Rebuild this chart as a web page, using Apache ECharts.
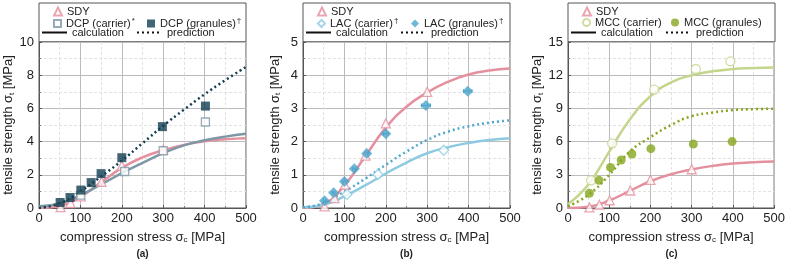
<!DOCTYPE html>
<html>
<head>
<meta charset="utf-8">
<script src="https://cdn.jsdelivr.net/npm/echarts@6/dist/echarts.min.js"></script>
<style>
  html, body { margin: 0; padding: 0; background: #fff; }
  #chart { width: 788px; height: 262px; }
</style>
</head>
<body>
<div id="chart"></div>
<script>
// measured points (compression stress MPa, tensile strength MPa)
var sdyPts = [[52, 0.05], [76, 0.3], [101, 0.7], [151, 1.58], [200, 2.55], [300, 3.5]];
var dcpCarrier = [[101, 0.78], [207, 2.2], [300, 3.45], [402, 5.18]];
var dcpGranules = [[51, 0.33], [75, 0.63], [101, 1.08], [126, 1.53], [150, 2.07], [200, 3.03], [298, 4.9], [402, 6.14]];
var lacCarrier = [[106, 0.41], [181, 1.01], [340, 1.74]];
var lacGranules = [[52, 0.22], [74, 0.46], [100, 0.8], [124, 1.18], [154, 1.64], [200, 2.24], [297, 3.09], [398, 3.52]];
var lacGranErr = [3, 3, 4, 4, 5, 6, 11, 10];
var mccCarrier = [[56, 2.5], [107, 5.84], [209, 10.7], [310, 12.56], [394, 13.25]];
var mccGranules = [[52, 1.33], [75, 2.5], [103, 3.67], [129, 4.34], [155, 4.88], [201, 5.36], [304, 5.78], [398, 6.0]];

// model curves, read every 50 MPa
var curveX = [0, 50, 100, 150, 200, 250, 300, 350, 400, 450, 500];
var sdyCalc = [0, 0.12, 0.68, 1.55, 2.42, 3.05, 3.48, 3.8, 4.02, 4.14, 4.2];
var dcpCalc = [0.1, 0.28, 0.78, 1.42, 2.1, 2.72, 3.3, 3.77, 4.08, 4.3, 4.47];
var dcpPred = [0, 0.28, 1.0, 1.9, 2.85, 3.9, 4.95, 5.92, 6.85, 7.7, 8.5];
var lacCalc = [0.02, 0.1, 0.35, 0.68, 1.04, 1.37, 1.65, 1.83, 1.96, 2.05, 2.1];
var lacPred = [0.02, 0.15, 0.49, 0.88, 1.3, 1.7, 2.05, 2.3, 2.46, 2.57, 2.64];
var mccCalc = [0.36, 2.15, 5.1, 8.0, 10.1, 11.35, 12.0, 12.35, 12.56, 12.65, 12.7];
var mccPred = [0.15, 1.2, 3.0, 5.1, 6.4, 7.5, 8.3, 8.62, 8.85, 8.93, 8.98];

var yMax = [10, 5, 15];
var yStep = [2, 1, 3];
var panelLabels = ['(a)', '(b)', '(c)'];
var carrierNames = ['DCP (carrier)*', 'LAC (carrier)\u2020', 'MCC (carrier)'];
var granuleNames = ['DCP (granules)\u2020', 'LAC (granules)\u2020', 'MCC (granules)'];

var PINK = '#e4909f';
var FONT = 'Liberation Sans, Arial, sans-serif';
var lefts = [39, 303, 568];
var W = 207, TOP = 42, BOTTOM = 54;

function zip(ys) {
  return curveX.map(function (x, i) { return [x, ys[i]]; });
}

function fitLine(name, idx, ys, color, dotted) {
  return {
    name: name, type: 'line', xAxisIndex: idx, yAxisIndex: idx,
    data: zip(ys), smooth: 0.5, symbol: 'none', silent: true,
    lineStyle: { color: color, width: 2.5, type: dotted ? [2, 3] : 'solid' },
    z: 2
  };
}

function markers(name, idx, pts, symbol, size, color, open) {
  return {
    name: name, type: 'scatter', xAxisIndex: idx, yAxisIndex: idx,
    data: pts, symbol: symbol, symbolSize: size,
    itemStyle: open
      ? { color: '#fff', borderColor: color, borderWidth: 1.3 }
      : { color: color, borderColor: color, borderWidth: 0 },
    z: 5
  };
}

// legend text with trailing * or dagger raised as superscript
function legendText(name) {
  var last = name.charAt(name.length - 1);
  if (last === '*' || last === '\u2020') {
    return '{n|' + name.slice(0, -1) + '}{sup|' + last + '}';
  }
  return '{n|' + name + '}';
}

var grids = [], xAxes = [], yAxes = [], legends = [], graphics = [];
var subRich = { s: { fontSize: 13, fontFamily: FONT, color: '#222' },
  sub: { fontSize: 8, fontFamily: FONT, color: '#222', verticalAlign: 'bottom', padding: [6, 0, 0, 0] } };
var legRich = { n: { fontSize: 11, fontFamily: FONT, color: '#222' },
  sup: { fontSize: 8, fontFamily: FONT, color: '#222', verticalAlign: 'top', padding: [0, 0, 5, 1] } };
for (var i = 0; i < 3; i++) {
  grids.push({ left: lefts[i], width: W, top: TOP, bottom: BOTTOM, show: true, borderColor: '#555', borderWidth: 1 });
  xAxes.push({
    type: 'value', gridIndex: i, min: 0, max: 500, interval: 100,
    name: 'compression stress {s|\u03c3}{sub|c} [MPa]', nameLocation: 'middle', nameGap: 22,
    nameTextStyle: { fontFamily: FONT, fontSize: 13, color: '#222', rich: subRich },
    axisLine: { show: true, lineStyle: { color: '#555' } },
    axisTick: { show: true, inside: true, length: 3, lineStyle: { color: '#555' } },
    minorTick: { show: true, splitNumber: 2, length: 2, lineStyle: { color: '#777' } },
    axisLabel: { fontFamily: FONT, fontSize: 13, color: '#222', margin: 4 },
    splitLine: { show: true, lineStyle: { color: '#bcbcbc', width: 1 } },
    minorSplitLine: { show: true, lineStyle: { color: '#e2e2e2', type: [3, 2] } }
  });
  yAxes.push({
    type: 'value', gridIndex: i, min: 0, max: yMax[i], interval: yStep[i],
    name: 'tensile strength {s|\u03c3}{sub|t} [MPa]', nameLocation: 'middle', nameGap: 21, nameRotate: 90,
    nameTextStyle: { fontFamily: FONT, fontSize: 13, color: '#222', rich: subRich },
    axisLine: { show: true, lineStyle: { color: '#555' } },
    axisTick: { show: true, inside: true, length: 3, lineStyle: { color: '#555' } },
    minorTick: { show: true, splitNumber: 2, length: 2, lineStyle: { color: '#777' } },
    axisLabel: { fontFamily: FONT, fontSize: 13, color: '#222', margin: 5 },
    splitLine: { show: true, lineStyle: { color: '#bcbcbc', width: 1 } },
    minorSplitLine: { show: true, lineStyle: { color: '#e2e2e2', type: [3, 2] } }
  });

  var L = lefts[i];
  var tx = { fontFamily: FONT, fontSize: 11, color: '#222', rich: legRich };
  function leg(name, left, top, iw, ih, lineOnly) {
    var l = { data: [name], left: left, top: top, itemWidth: iw, itemHeight: ih,
      itemGap: 0, padding: 0, textStyle: tx, selectedMode: false, formatter: legendText };
    if (lineOnly) l.itemStyle = { color: 'rgba(0,0,0,0)', borderColor: 'rgba(0,0,0,0)', borderWidth: 0 };
    legends.push(l);
  }
  leg('SDY', L + 14, 6, 8, 8);
  leg(carrierNames[i], L + 14, 17, 7, 7);
  leg(granuleNames[i], L + (i === 2 ? 103 : 108), 17, 8, 8);
  leg('calculation', L + 2, 27, 25, 10, true);
  leg('prediction', L + 97, 27, 25, 10, true);

  graphics.push({ type: 'rect', shape: { x: L, y: 3, width: W, height: TOP - 3 },
    style: { fill: 'none', stroke: '#555', lineWidth: 1 }, silent: true });
  graphics.push({ type: 'text', x: L + W / 2, y: 249,
    style: { text: panelLabels[i], font: 'bold 10px ' + FONT, fill: '#222', textAlign: 'center' } });
}

var series = [
  // (a)
  fitLine('sdyA', 0, sdyCalc, PINK, false),
  fitLine('dcpCalc', 0, dcpCalc, '#7d97a6', false),
  fitLine('dcpPred', 0, dcpPred, '#113e51', true),
  markers('SDY', 0, sdyPts, 'triangle', 9, PINK, true),
  markers(carrierNames[0], 0, dcpCarrier, 'rect', 8, '#7d97a6', true),
  markers(granuleNames[0], 0, dcpGranules, 'rect', 9, '#113e51', false),
  // (b)
  fitLine('sdyB', 1, sdyCalc, PINK, false),
  fitLine('lacCalc', 1, lacCalc, '#8ecae0', false),
  fitLine('lacPred', 1, lacPred, '#4fa7cc', true),
  markers('SDY', 1, sdyPts, 'triangle', 9, PINK, true),
  markers(carrierNames[1], 1, lacCarrier, 'diamond', 10, '#8ecae0', true),
  {
    name: 'lacErr', type: 'custom', xAxisIndex: 1, yAxisIndex: 1, silent: true, z: 4,
    data: lacGranules.map(function (p, k) { return [p[0], p[1], lacGranErr[k]]; }),
    renderItem: function (params, api) {
      var a = api.coord([api.value(0) - api.value(2), api.value(1)]);
      var b = api.coord([api.value(0) + api.value(2), api.value(1)]);
      var st = { stroke: '#4aa5cc', lineWidth: 1 };
      return { type: 'group', children: [
        { type: 'line', shape: { x1: a[0], y1: a[1], x2: b[0], y2: b[1] }, style: st },
        { type: 'line', shape: { x1: a[0], y1: a[1] - 2, x2: a[0], y2: a[1] + 2 }, style: st },
        { type: 'line', shape: { x1: b[0], y1: b[1] - 2, x2: b[0], y2: b[1] + 2 }, style: st }
      ] };
    }
  },
  markers(granuleNames[1], 1, lacGranules, 'diamond', 11, '#4aa5cc', false),
  // (c)
  fitLine('sdyC', 2, sdyCalc, PINK, false),
  fitLine('mccCalc', 2, mccCalc, '#c4d58c', false),
  fitLine('mccPred', 2, mccPred, '#86a61e', true),
  markers('SDY', 2, sdyPts, 'triangle', 9, PINK, true),
  markers(carrierNames[2], 2, mccCarrier, 'circle', 9, '#c4d58c', true),
  markers(granuleNames[2], 2, mccGranules, 'circle', 9, '#86a61e', false),
  // legend-only entries
  { name: 'calculation', type: 'line', xAxisIndex: 0, yAxisIndex: 0, data: [], symbol: 'none',
    itemStyle: { color: '#111' }, lineStyle: { color: '#111', width: 2.5 } },
  { name: 'prediction', type: 'line', xAxisIndex: 0, yAxisIndex: 0, data: [], symbol: 'none',
    itemStyle: { color: '#111' }, lineStyle: { color: '#111', width: 2.5, type: [2, 3] } }
];

var chart = echarts.init(document.getElementById('chart'), null, { renderer: 'canvas' });
chart.setOption({
  animation: false,
  backgroundColor: '#fff',
  grid: grids, xAxis: xAxes, yAxis: yAxes,
  legend: legends,
  graphic: graphics,
  series: series
});
</script>
</body>
</html>
